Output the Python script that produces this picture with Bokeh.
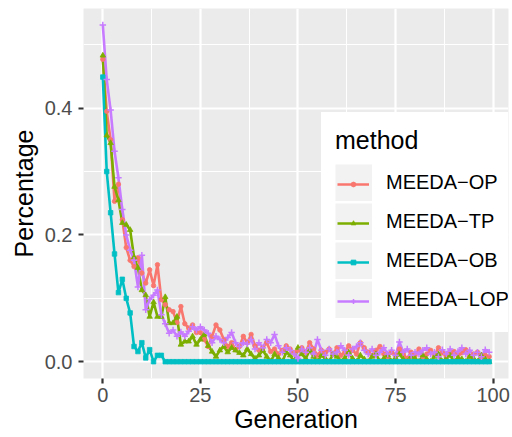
from bokeh.plotting import figure
from bokeh.models import Range1d, FixedTicker, Legend, LegendItem
from bokeh.embed import file_html
from bokeh.resources import INLINE

generation = list(range(100))

methods = ["MEEDA\u2212OP", "MEEDA\u2212TP", "MEEDA\u2212OB", "MEEDA\u2212LOP"]
colors = ["#F8766D", "#7CAE00", "#00BFC4", "#C77CFF"]
markers = ["circle", "triangle", "square", "cross"]

meeda_op = [0.477, 0.395, 0.350, 0.253, 0.280, 0.224, 0.180, 0.160, 0.150, 0.164,
            0.140, 0.124, 0.145, 0.120, 0.153, 0.098, 0.090, 0.082, 0.079, 0.062,
            0.087, 0.060, 0.053, 0.058, 0.046, 0.046, 0.035, 0.024, 0.040, 0.058,
            0.050, 0.035, 0.024, 0.030, 0.019, 0.024, 0.040, 0.030, 0.043, 0.025,
            0.018, 0.022, 0.030, 0.016, 0.020, 0.012, 0.018, 0.025, 0.020, 0.014,
            0.018, 0.022, 0.015, 0.030, 0.020, 0.010, 0.018, 0.015, 0.020, 0.012,
            0.022, 0.010, 0.015, 0.025, 0.018, 0.012, 0.030, 0.022, 0.015, 0.010,
            0.018, 0.024, 0.012, 0.008, 0.015, 0.010, 0.020, 0.012, 0.005, 0.015,
            0.010, 0.020, 0.008, 0.012, 0.018, 0.010, 0.022, 0.014, 0.008, 0.012,
            0.016, 0.010, 0.014, 0.019, 0.008, 0.012, 0.015, 0.006, 0.010, 0.008]

meeda_tp = [0.483, 0.357, 0.345, 0.276, 0.255, 0.219, 0.216, 0.208, 0.165, 0.148,
            0.113, 0.105, 0.071, 0.094, 0.071, 0.071, 0.102, 0.061, 0.061, 0.071,
            0.027, 0.032, 0.032, 0.040, 0.027, 0.035, 0.043, 0.025, 0.016, 0.008,
            0.018, 0.024, 0.015, 0.022, 0.018, 0.014, 0.010, 0.020, 0.012, 0.005,
            0.010, 0.018, 0.008, 0.000, 0.012, 0.006, 0.000, 0.015, 0.010, 0.000,
            0.022, 0.012, 0.005, 0.018, 0.008, 0.000, 0.010, 0.005, 0.000, 0.012,
            0.008, 0.000, 0.006, 0.015, 0.005, 0.000, 0.010, 0.004, 0.000, 0.008,
            0.012, 0.000, 0.005, 0.010, 0.000, 0.006, 0.012, 0.004, 0.000, 0.008,
            0.005, 0.000, 0.010, 0.004, 0.000, 0.008, 0.012, 0.000, 0.005, 0.010,
            0.000, 0.006, 0.004, 0.000, 0.008, 0.005, 0.000, 0.010, 0.004, 0.000]

meeda_ob = [0.449, 0.300, 0.235, 0.170, 0.109, 0.130, 0.100, 0.077, 0.024, 0.016,
            0.030, 0.006, 0.019, 0.000, 0.010, 0.010, 0.000, 0.000, 0.000, 0.000,
            0.000, 0.000, 0.000, 0.000, 0.000, 0.000, 0.000, 0.000, 0.000, 0.000,
            0.000, 0.000, 0.000, 0.000, 0.000, 0.000, 0.000, 0.000, 0.000, 0.000,
            0.000, 0.000, 0.000, 0.000, 0.000, 0.000, 0.000, 0.000, 0.000, 0.000,
            0.000, 0.000, 0.000, 0.000, 0.000, 0.000, 0.000, 0.000, 0.000, 0.000,
            0.000, 0.000, 0.000, 0.000, 0.000, 0.000, 0.000, 0.000, 0.000, 0.000,
            0.000, 0.000, 0.000, 0.000, 0.000, 0.000, 0.000, 0.000, 0.000, 0.000,
            0.000, 0.000, 0.000, 0.000, 0.000, 0.000, 0.000, 0.000, 0.000, 0.000,
            0.000, 0.000, 0.000, 0.000, 0.000, 0.000, 0.000, 0.000, 0.000, 0.000]

meeda_lop = [0.531, 0.445, 0.397, 0.332, 0.290, 0.240, 0.200, 0.176, 0.160, 0.118,
             0.168, 0.082, 0.098, 0.105, 0.113, 0.074, 0.060, 0.045, 0.050, 0.040,
             0.047, 0.040, 0.048, 0.055, 0.050, 0.055, 0.050, 0.045, 0.030, 0.040,
             0.035, 0.030, 0.038, 0.046, 0.030, 0.024, 0.030, 0.028, 0.035, 0.020,
             0.030, 0.022, 0.035, 0.030, 0.043, 0.025, 0.015, 0.022, 0.018, 0.012,
             0.005, 0.020, 0.015, 0.022, 0.012, 0.035, 0.018, 0.010, 0.020, 0.012,
             0.015, 0.025, 0.018, 0.010, 0.020, 0.024, 0.030, 0.018, 0.012, 0.020,
             0.010, 0.015, 0.022, 0.012, 0.018, 0.010, 0.031, 0.015, 0.020, 0.010,
             0.015, 0.012, 0.018, 0.022, 0.012, 0.015, 0.008, 0.019, 0.012, 0.020,
             0.010, 0.016, 0.022, 0.012, 0.018, 0.010, 0.015, 0.008, 0.019, 0.015]

series = [meeda_op, meeda_tp, meeda_ob, meeda_lop]

x_ticks = [0, 25, 50, 75, 100]
x_minor = [12.5, 37.5, 62.5, 87.5]
y_ticks = [0.0, 0.2, 0.4]
y_minor = [0.1, 0.3, 0.5]
y_tick_labels = {0.0: "0.0", 0.2: "0.2", 0.4: "0.4"}

FONT = "Liberation Sans"

p = figure(width=512, height=437, output_backend="svg", toolbar_location=None,
           x_range=Range1d(-4.95, 103.95), y_range=Range1d(-0.0265, 0.5572),
           min_border_left=83, min_border_right=4, min_border_top=8, min_border_bottom=59)
p.title.visible = False
p.background_fill_color = "#EBEBEB"
p.border_fill_color = "white"
p.outline_line_color = None

p.xaxis.ticker = FixedTicker(ticks=x_ticks, minor_ticks=x_minor)
p.yaxis.ticker = FixedTicker(ticks=y_ticks, minor_ticks=y_minor)
p.yaxis.major_label_overrides = y_tick_labels

for ax in (p.xaxis, p.yaxis):
    ax.axis_line_color = None
    ax.major_tick_line_color = "#333333"
    ax.major_tick_line_width = 2.2
    ax.major_tick_out = 5
    ax.major_tick_in = 0
    ax.minor_tick_line_color = None
    ax.major_label_text_font = FONT
    ax.major_label_text_font_size = "20px"
    ax.major_label_text_color = "#4D4D4D"
    ax.axis_label_text_font = FONT
    ax.axis_label_text_font_size = "25px"
    ax.axis_label_text_font_style = "normal"
    ax.axis_label_text_color = "black"

p.xaxis.axis_label = "Generation"
p.yaxis.axis_label = "Percentage"
p.xaxis.major_label_standoff = 4
p.xaxis.axis_label_standoff = 0
p.yaxis.major_label_standoff = 6
p.yaxis.axis_label_standoff = 4

for g in (p.xgrid, p.ygrid):
    g.grid_line_color = "white"
    g.grid_line_width = 2.2
    g.minor_grid_line_color = "white"
    g.minor_grid_line_width = 1.1

line_rs = []
for vals, c in zip(series, colors):
    line_rs.append(p.line(generation, vals, line_color=c, line_width=2.6))

pt_rs = []
for vals, c, m in zip(series, colors, markers):
    if m == "cross":
        r = p.scatter(generation, vals, marker=m, size=6.5, line_color=c, line_width=1.5)
    else:
        r = p.scatter(generation, vals, marker=m, size=4.5 if m != "triangle" else 5.5,
                      fill_color=c, line_color=c, line_width=0.8)
    pt_rs.append(r)

# key backgrounds: renderers holding no drawable point, used only by the legend
nan = float("nan")
key_rs = [p.line(generation[:1], [nan], line_color="#F2F2F2", line_width=37,
                 line_cap="butt") for _ in methods]

legend_main = Legend(
    items=[LegendItem(label=m, renderers=[k]) for m, k in zip(methods, key_rs)],
    location=(238, 46), title="method",
    title_text_font=FONT, title_text_font_size="25px", title_text_font_style="normal",
    title_text_color="black", title_standoff=9,
    label_text_font=FONT, label_text_font_size="20px", label_text_color="black",
    glyph_width=37, glyph_height=37, label_height=37, spacing=2, label_standoff=14,
    padding=13, background_fill_color="white", background_fill_alpha=1.0,
    border_line_color="white", border_line_width=1, margin=0)
p.add_layout(legend_main, "center")

legend_keys = Legend(
    items=[LegendItem(label="", renderers=[l, s]) for l, s in zip(line_rs, pt_rs)],
    location=(253.5, 71.5),
    label_text_font=FONT, label_text_font_size="1px",
    glyph_width=32, glyph_height=12, label_height=12, spacing=27, label_standoff=0,
    padding=0, background_fill_alpha=0.0, border_line_color=None, margin=0)
p.add_layout(legend_keys, "center")

open("out.html", "w").write(file_html(p, INLINE))
